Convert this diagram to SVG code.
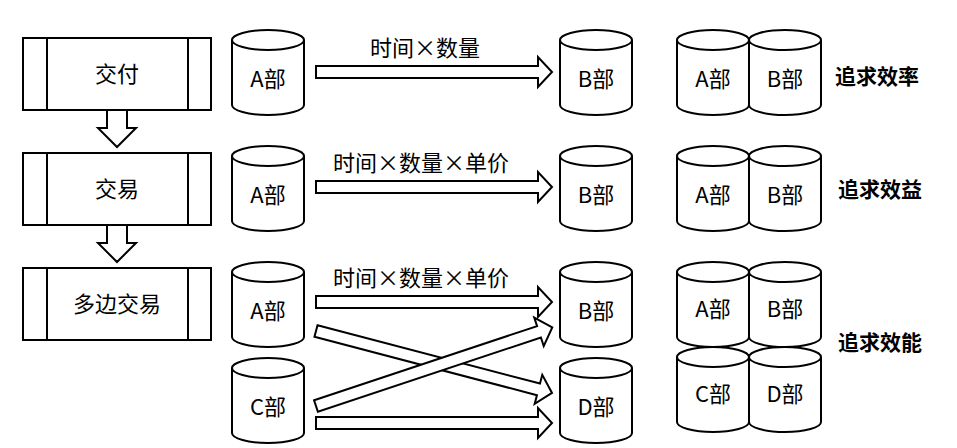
<svg xmlns="http://www.w3.org/2000/svg" xmlns:xlink="http://www.w3.org/1999/xlink" width="957" height="448" viewBox="0 0 957 448">
<style>
.s{fill:#fff;stroke:#000;stroke-width:2}
.t{font-family:"Noto Sans CJK SC","Liberation Sans",sans-serif;font-size:22px;fill:#000;text-anchor:middle}
.b{font-family:"Noto Sans CJK SC","Liberation Sans",sans-serif;font-size:21px;font-weight:bold;fill:#000}
</style>
<defs>
<g id="cyl"><path class="s" d="M0,10 a36,10 0 0,1 72,0 v65 a36,10 0 0,1 -72,0 z"/><path class="s" fill="none" d="M0,10 a36,10 0 0,0 72,0"/></g>
<g id="proc"><rect class="s" x="0" y="0" width="188" height="72"/><path class="s" d="M24,0v72M165,0v72"/></g>
<path id="dn" class="s" d="M-10,0 H10 V18 H19 L0,37 L-19,18 H-10 Z"/>
</defs>
<g id="p1"><use xlink:href="#proc" x="23" y="38"/><text class="t" x="117" y="82">交付</text></g>
<g id="p2"><use xlink:href="#proc" x="23" y="153"/><text class="t" x="117" y="197">交易</text></g>
<g id="p3"><use xlink:href="#proc" x="23" y="268"/><text class="t" x="117" y="312">多边交易</text></g>
<g id="connectors">
<use xlink:href="#dn" x="117" y="110"/>
<use xlink:href="#dn" x="117" y="225"/>
<path class="s" transform="translate(316,72)" d="M0,-6 H222 V-15 L236,0 L222,15 V6 H0 Z"/>
<path class="s" transform="translate(316,187)" d="M0,-6 H222 V-15 L236,0 L222,15 V6 H0 Z"/>
<path class="s" transform="translate(316,302)" d="M0,-6 H222 V-15 L236,0 L222,15 V6 H0 Z"/>
<path class="s" transform="translate(316,423)" d="M0,-6 H222 V-15 L236,0 L222,15 V6 H0 Z"/>
<path class="s" transform="translate(316,331) rotate(14.7)" d="M0,-6 H230 V-15 L244,0 L230,15 V6 H0 Z"/>
<path class="s" transform="translate(316,406) rotate(-18.4)" d="M0,-6 H235 V-15 L249,0 L235,15 V6 H0 Z"/>
<text class="t" x="425" y="56">时间×数量</text>
<text class="t" x="421" y="171">时间×数量×单价</text>
<text class="t" x="421" y="286">时间×数量×单价</text>
</g>
<g id="a1"><use xlink:href="#cyl" x="232" y="30"/><text class="t" x="268" y="87">A部</text></g>
<g id="b1"><use xlink:href="#cyl" x="560" y="30"/><text class="t" x="596" y="87">B部</text></g>
<g id="a2"><use xlink:href="#cyl" x="232" y="146"/><text class="t" x="268" y="203">A部</text></g>
<g id="b2"><use xlink:href="#cyl" x="560" y="146"/><text class="t" x="596" y="203">B部</text></g>
<g id="a3"><use xlink:href="#cyl" x="232" y="262"/><text class="t" x="268" y="319">A部</text></g>
<g id="b3"><use xlink:href="#cyl" x="560" y="262"/><text class="t" x="596" y="319">B部</text></g>
<g id="c3"><use xlink:href="#cyl" x="232" y="358"/><text class="t" x="268" y="415">C部</text></g>
<g id="d3"><use xlink:href="#cyl" x="560" y="358"/><text class="t" x="596" y="415">D部</text></g>
<g id="r1"><use xlink:href="#cyl" x="677" y="30"/><text class="t" x="713" y="87">A部</text><use xlink:href="#cyl" x="749" y="30"/><text class="t" x="785" y="87">B部</text><text class="b" x="835" y="84">追求效率</text></g>
<g id="r2"><use xlink:href="#cyl" x="677" y="146"/><text class="t" x="713" y="203">A部</text><use xlink:href="#cyl" x="749" y="146"/><text class="t" x="785" y="203">B部</text><text class="b" x="838" y="197">追求效益</text></g>
<g id="r3"><use xlink:href="#cyl" x="677" y="262"/><text class="t" x="713" y="317">A部</text><use xlink:href="#cyl" x="749" y="262"/><text class="t" x="785" y="317">B部</text><use xlink:href="#cyl" x="677" y="347"/><text class="t" x="713" y="402">C部</text><use xlink:href="#cyl" x="749" y="347"/><text class="t" x="785" y="402">D部</text><text class="b" x="838" y="350">追求效能</text></g>
</svg>
